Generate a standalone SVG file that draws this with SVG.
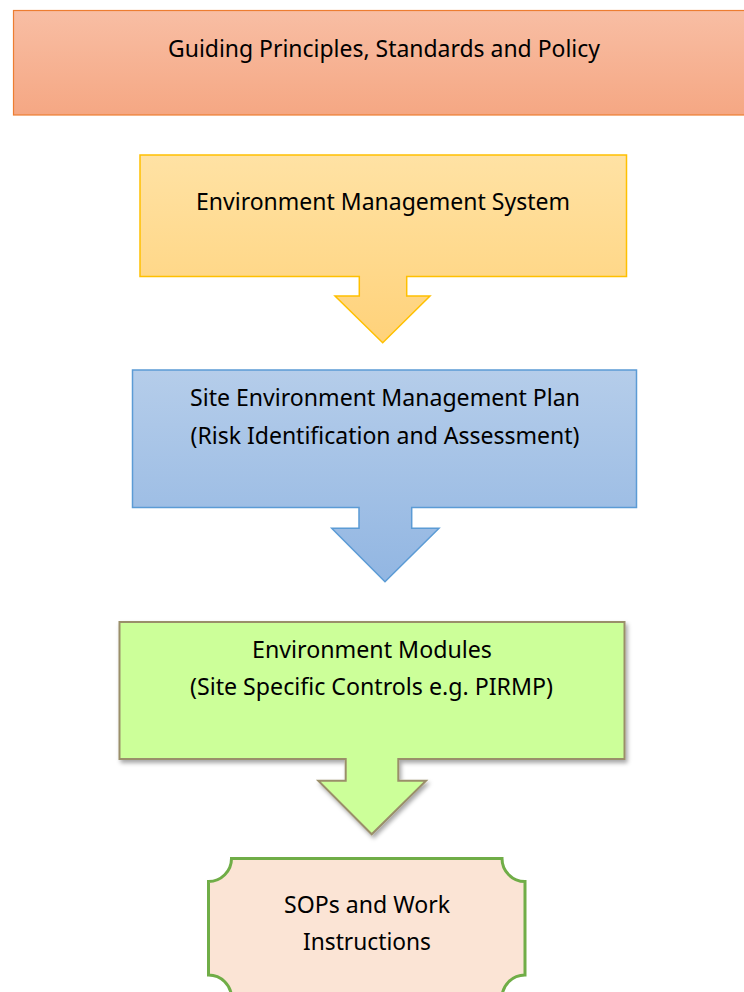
<svg xmlns="http://www.w3.org/2000/svg" width="744" height="992" viewBox="0 0 744 992">
<style>
  .lbl { font-family: "Noto Sans", "Open Sans", "Liberation Sans", sans-serif; font-size: 23px; fill: #000; text-anchor: middle; }
</style>
<defs>
  <linearGradient id="gOrange" x1="0" y1="0" x2="0" y2="1">
    <stop offset="0" stop-color="#F8BEA4"/>
    <stop offset="1" stop-color="#F5A783"/>
  </linearGradient>
  <linearGradient id="gYellow" x1="0" y1="0" x2="0" y2="1">
    <stop offset="0" stop-color="#FFE2A4"/>
    <stop offset="1" stop-color="#FFD27A"/>
  </linearGradient>
  <linearGradient id="gBlue" x1="0" y1="0" x2="0" y2="1">
    <stop offset="0" stop-color="#B5CDEA"/>
    <stop offset="1" stop-color="#92B6E2"/>
  </linearGradient>
  <filter id="shadow" x="-5%" y="-5%" width="115%" height="120%">
    <feDropShadow dx="2" dy="3" stdDeviation="2" flood-color="#000" flood-opacity="0.35"/>
  </filter>
</defs>

<g id="node-guiding">
  <rect x="13.5" y="10.5" width="740" height="104.5" fill="url(#gOrange)" stroke="#ED7D31" stroke-width="1.2"/>
  <text class="lbl" x="384" y="57" textLength="432" lengthAdjust="spacingAndGlyphs">Guiding Principles, Standards and Policy</text>
</g>

<g id="node-ems">
  <path d="M140,155 H626.5 V276.5 H406.7 V296 H430 L382.7,342.7 L335,296 H359.3 V276.5 H140 Z" fill="url(#gYellow)" stroke="#FFC000" stroke-width="1.5" stroke-linejoin="miter"/>
  <text class="lbl" x="383" y="210" textLength="374" lengthAdjust="spacingAndGlyphs">Environment Management System</text>
</g>

<g id="node-semp">
  <path d="M132.5,370 H636.5 V507.5 H411.7 V528.3 H439 L385,581.7 L331.7,528.3 H359 V507.5 H132.5 Z" fill="url(#gBlue)" stroke="#5B9BD5" stroke-width="1.5"/>
  <text class="lbl" x="385" y="406" textLength="390" lengthAdjust="spacingAndGlyphs">Site Environment Management Plan</text>
  <text class="lbl" x="385" y="444" textLength="389" lengthAdjust="spacingAndGlyphs">(Risk Identification and Assessment)</text>
</g>

<g id="node-modules">
  <path d="M119.5,622 H624.5 V759 H398.3 V780.7 H426 L371.7,834.3 L318.3,780.7 H345.7 V759 H119.5 Z" fill="#CCFF99" stroke="#9A8F6A" stroke-width="2" filter="url(#shadow)"/>
  <text class="lbl" x="372" y="658" textLength="240" lengthAdjust="spacingAndGlyphs">Environment Modules</text>
  <text class="lbl" x="371.5" y="695" textLength="363" lengthAdjust="spacingAndGlyphs">(Site Specific Controls e.g. PIRMP)</text>
</g>

<g id="node-sops">
  <path d="M231.5,858.5 H502 A23,23 0 0 0 525,881.5 V975 A23,23 0 0 0 502,998 H231.5 A23,23 0 0 0 208.5,975 V881.5 A23,23 0 0 0 231.5,858.5 Z" fill="#FBE4D5" stroke="#70AD47" stroke-width="3"/>
  <text class="lbl" x="367" y="913" textLength="166" lengthAdjust="spacingAndGlyphs">SOPs and Work</text>
  <text class="lbl" x="367" y="950" textLength="128" lengthAdjust="spacingAndGlyphs">Instructions</text>
</g>

<g id="connectors"></g>
</svg>
